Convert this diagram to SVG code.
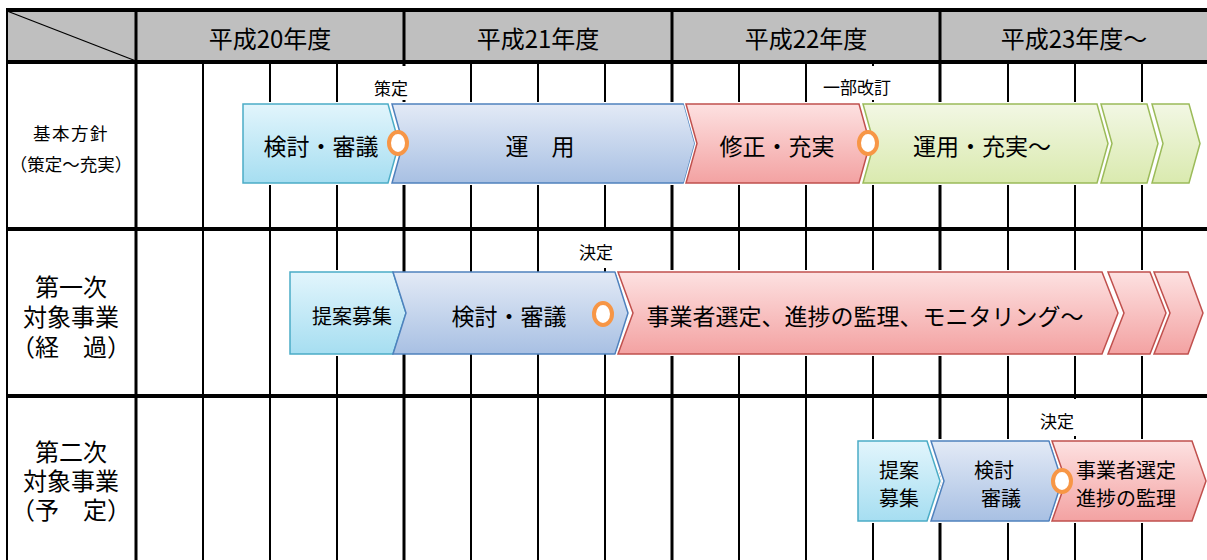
<svg xmlns="http://www.w3.org/2000/svg" width="1207" height="560" viewBox="0 0 1207 560">
<defs>
<linearGradient id="gCyan" x1="0" y1="0" x2="0" y2="1"><stop offset="0" stop-color="#E2F5FC"/><stop offset="1" stop-color="#A6DEF1"/></linearGradient>
<linearGradient id="gBlue" x1="0" y1="0" x2="0" y2="1"><stop offset="0" stop-color="#E3EAF6"/><stop offset="1" stop-color="#A8C0E3"/></linearGradient>
<linearGradient id="gRed" x1="0" y1="0" x2="0" y2="1"><stop offset="0" stop-color="#FDE1E1"/><stop offset="1" stop-color="#F3A2A2"/></linearGradient>
<linearGradient id="gGreen" x1="0" y1="0" x2="0" y2="1"><stop offset="0" stop-color="#F2F7E4"/><stop offset="1" stop-color="#DAEAAF"/></linearGradient>
</defs>
<style>
text{font-family:"Noto Sans CJK JP","Noto Sans CJK SC",sans-serif;fill:#000;text-anchor:middle;dominant-baseline:central}
.hd{font-size:24px}
.lb{font-size:24px}
.lb1{font-size:17.5px}
.sm{font-size:17px}
.big{font-size:23px}
.long{font-size:23px}
.mid{font-size:20px}
.thin{stroke:#000;stroke-width:2;fill:none}
.thick{stroke:#000;stroke-width:3;fill:none}
.bold{stroke:#000;stroke-width:4;fill:none}
.cy{fill:url(#gCyan);stroke:#4BACC6;stroke-width:1.5}
.bl{fill:url(#gBlue);stroke:#4F81BD;stroke-width:1.5}
.rd{fill:url(#gRed);stroke:#C0504D;stroke-width:1.5}
.gr{fill:url(#gGreen);stroke:#9BBB59;stroke-width:1.5}
.halo{fill:none;stroke:#fff;stroke-width:4;stroke-linejoin:miter}
.ring{fill:#fff;stroke:#F79646;stroke-width:4}
.wb{fill:#fff}
</style>
<rect width="1207" height="560" fill="#fff"/>
<g id="grid">
<rect x="7" y="10" width="1200" height="52" fill="#BFBFBF"/>
<line class="thin" x1="7" y1="11" x2="136" y2="61" style="stroke-width:1.3"/>
<g class="thin">
<line x1="203" y1="62" x2="203" y2="560"/><line x1="270" y1="62" x2="270" y2="560"/><line x1="337" y1="62" x2="337" y2="560"/>
<line x1="471" y1="62" x2="471" y2="560"/><line x1="538" y1="62" x2="538" y2="560"/><line x1="605" y1="62" x2="605" y2="560"/>
<line x1="739" y1="62" x2="739" y2="560"/><line x1="806" y1="62" x2="806" y2="560"/><line x1="873" y1="62" x2="873" y2="560"/>
<line x1="1008" y1="62" x2="1008" y2="560"/><line x1="1075" y1="62" x2="1075" y2="560"/><line x1="1142" y1="62" x2="1142" y2="560"/>
<line x1="7" y1="8" x2="7" y2="560"/>
</g>
<g class="thick">
<line x1="136" y1="10" x2="136" y2="560"/><line x1="404" y1="10" x2="404" y2="560"/><line x1="672" y1="10" x2="672" y2="560"/><line x1="940" y1="10" x2="940" y2="560"/>
</g>
<g class="bold">
<line x1="6" y1="10" x2="1207" y2="10"/><line x1="6" y1="62" x2="1207" y2="62"/><line x1="6" y1="229" x2="1207" y2="229"/><line x1="6" y1="396" x2="1207" y2="396"/>
</g>
</g>
<g id="header">
<text class="hd" x="270" y="37">平成20年度</text>
<text class="hd" x="538" y="37">平成21年度</text>
<text class="hd" x="806" y="37">平成22年度</text>
<text class="hd" x="1074" y="37">平成23年度～</text>
</g>
<g id="row-labels">
<text class="lb1" x="71" y="132" style="letter-spacing:1.5px">基本方針</text>
<text class="lb1" x="71" y="163">（策定～充実）</text>
<text class="lb" x="71" y="285">第一次</text>
<text class="lb" x="71" y="315">対象事業</text>
<text class="lb" x="71" y="345">（経　過）</text>
<text class="lb" x="71" y="450">第二次</text>
<text class="lb" x="71" y="479">対象事業</text>
<text class="lb" x="71" y="508">（予　定）</text>
</g>
<g id="milestone-labels">
<rect class="wb" x="371" y="66" width="40" height="34"/>
<text class="sm" x="391" y="87">策定</text>
<rect class="wb" x="818" y="66" width="79" height="34"/>
<text class="sm" x="857" y="86">一部改訂</text>
<rect class="wb" x="573" y="231" width="46" height="37"/>
<text class="sm" x="596" y="251">決定</text>
<rect class="wb" x="1035" y="399" width="46" height="37"/>
<text class="sm" x="1057" y="420">決定</text>
</g>
<g id="row1">
<g id="r1-kento">
<polygon class="halo" points="243,104 388,104 399,143.5 388,183 243,183"/>
<polygon class="cy" points="243,104 388,104 399,143.5 388,183 243,183"/>
<text class="big" x="321" y="145">検討・審議</text>
</g>
<g id="r1-unyo">
<polygon class="halo" points="392,104 684,104 695,143.5 684,183 392,183 403,143.5"/>
<polygon class="bl" points="392,104 684,104 695,143.5 684,183 392,183 403,143.5"/>
<text class="big" x="540" y="145">運　用</text>
</g>
<g id="r1-shusei">
<polygon class="halo" points="686,104 859,104 870,143.5 859,183 686,183 697,143.5"/>
<polygon class="rd" points="686,104 859,104 870,143.5 859,183 686,183 697,143.5"/>
<text class="big" x="777" y="145">修正・充実</text>
</g>
<g id="r1-unyo2">
<polygon class="halo" points="863,104 1097,104 1108,143.5 1097,183 863,183 874,143.5"/>
<polygon class="gr" points="863,104 1097,104 1108,143.5 1097,183 863,183 874,143.5"/>
<text class="big" x="982" y="145">運用・充実～</text>
</g>
<g id="r1-cont1">
<polygon class="halo" points="1101,104 1147,104 1158,143.5 1147,183 1101,183 1112,143.5"/>
<polygon class="gr" points="1101,104 1147,104 1158,143.5 1147,183 1101,183 1112,143.5"/>
</g>
<g id="r1-cont2">
<polygon class="halo" points="1152,104 1189,104 1200,143.5 1189,183 1152,183 1163,143.5"/>
<polygon class="gr" points="1152,104 1189,104 1200,143.5 1189,183 1152,183 1163,143.5"/>
</g>
<ellipse id="r1-m1" class="ring" cx="398" cy="143" rx="9" ry="11"/>
<ellipse id="r1-m2" class="ring" cx="868" cy="143" rx="9" ry="11"/>
</g>
<g id="row2">
<g id="r2-teian">
<polygon class="halo" points="290,272 393,272 406,313 393,354 290,354"/>
<polygon class="cy" points="290,272 393,272 406,313 393,354 290,354"/>
<text class="mid" x="352" y="315">提案募集</text>
</g>
<g id="r2-kento">
<polygon class="bl" points="393,272 615,272 628,313 615,354 393,354 406,313"/>
<text class="big" x="509" y="315">検討・審議</text>
</g>
<g id="r2-jigyo">
<polygon class="halo" points="618,272 1102,272 1118,313 1102,354 618,354 633,313"/>
<polygon class="rd" points="618,272 1102,272 1118,313 1102,354 618,354 633,313"/>
<text class="long" x="865" y="315">事業者選定、進捗の監理、モニタリング～</text>
</g>
<g id="r2-cont1">
<polygon class="halo" points="1108,272 1150,272 1166,313 1150,354 1108,354 1124,313"/>
<polygon class="rd" points="1108,272 1150,272 1166,313 1150,354 1108,354 1124,313"/>
</g>
<g id="r2-cont2">
<polygon class="halo" points="1154,272 1188,272 1203,313 1188,354 1154,354 1170,313"/>
<polygon class="rd" points="1154,272 1188,272 1203,313 1188,354 1154,354 1170,313"/>
</g>
<ellipse id="r2-m1" class="ring" cx="603" cy="314" rx="9" ry="11"/>
</g>
<g id="row3">
<g id="r3-teian">
<polygon class="halo" points="858,441 927,441 940,481 927,521 858,521"/>
<polygon class="cy" points="858,441 927,441 940,481 927,521 858,521"/>
<text class="mid" x="899" y="469">提案</text>
<text class="mid" x="899" y="497">募集</text>
</g>
<g id="r3-kento">
<polygon class="halo" points="931,441 1049,441 1062,481 1049,521 931,521 944,481"/>
<polygon class="bl" points="931,441 1049,441 1062,481 1049,521 931,521 944,481"/>
<text class="mid" x="994" y="469">検討</text>
<text class="mid" x="1001" y="497">審議</text>
</g>
<g id="r3-jigyo">
<polygon class="halo" points="1052,441 1192,441 1206,481 1192,521 1052,521 1066,481"/>
<polygon class="rd" points="1052,441 1192,441 1206,481 1192,521 1052,521 1066,481"/>
<text class="mid" x="1126" y="469">事業者選定</text>
<text class="mid" x="1126" y="497">進捗の監理</text>
</g>
<ellipse id="r3-m1" class="ring" cx="1062" cy="481" rx="9" ry="11"/>
</g>
<g id="connectors"/>
</svg>
